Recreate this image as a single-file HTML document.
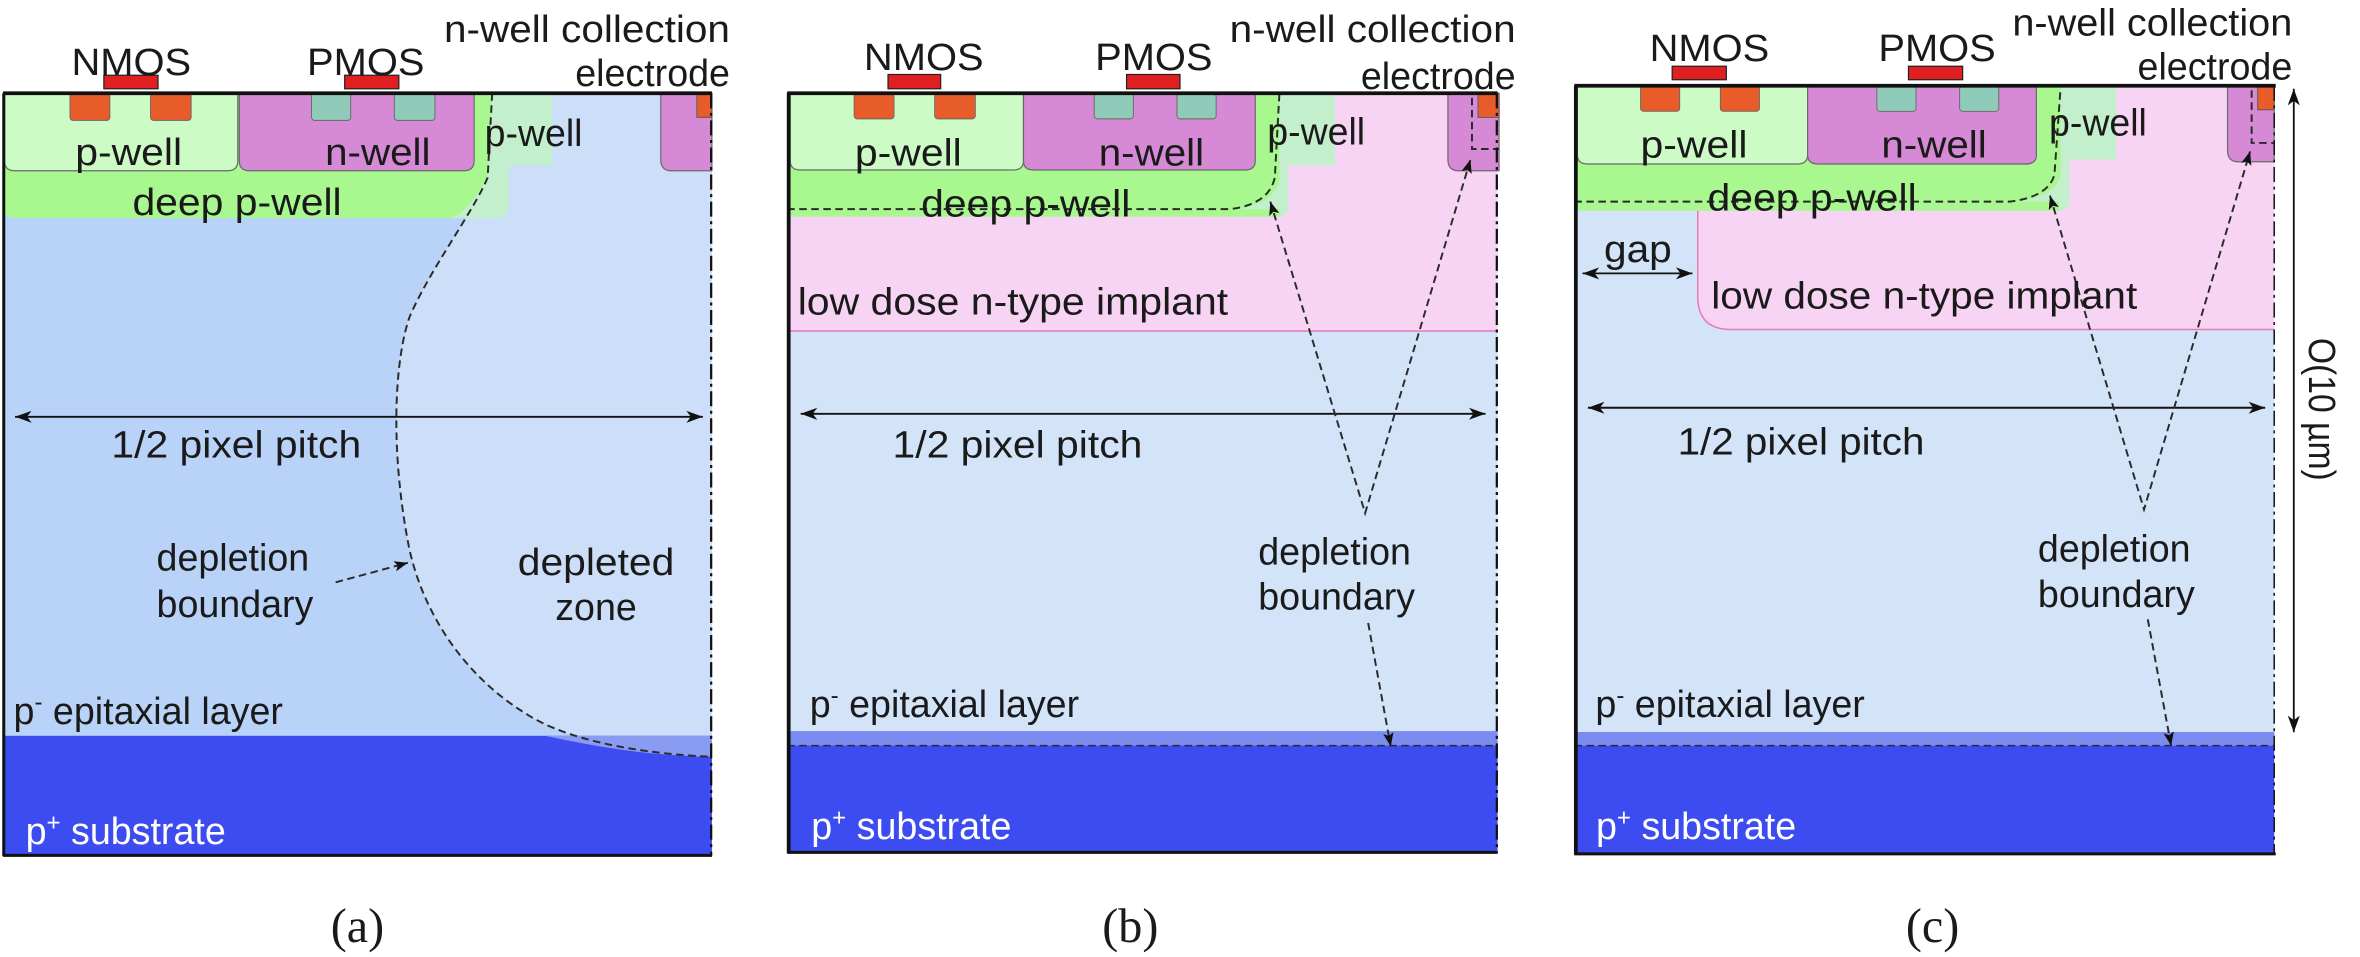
<!DOCTYPE html>
<html><head><meta charset="utf-8"><style>
html,body{margin:0;padding:0;background:#fff;width:2360px;height:957px;overflow:hidden}
svg{display:block}
text{font-family:"Liberation Sans",sans-serif;font-size:25px;fill:#1a1a1a}
.cap{font-family:"Liberation Serif",serif;font-size:32px}
.w{fill:#fff}
.dash{fill:none;stroke:#2a2a2a;stroke-width:1.3;stroke-dasharray:5,3}
</style></head><body>
<svg width="2360" height="957" viewBox="0 0 1568 636" preserveAspectRatio="none" xmlns="http://www.w3.org/2000/svg">
<defs>
<marker id="ah" markerUnits="userSpaceOnUse" markerWidth="12" markerHeight="10" refX="11" refY="5" orient="auto-start-reverse"><path d="M0,1 L11,5 L0,9 L3,5 Z" fill="#111"/></marker>
<marker id="ad" markerUnits="userSpaceOnUse" markerWidth="10" markerHeight="8" refX="9" refY="4" orient="auto-start-reverse"><path d="M0,0.5 L9,4 L0,7.5 L2,4 Z" fill="#111"/></marker>
</defs>

<!-- ================= PANEL A ================= -->
<rect x="2" y="62" width="471" height="507" fill="#b8d3f7"/>
<path d="M327,62 L324,118 C315,140 285,180 272,211 C262,240 259,300 272,365 C282,410 310,450 349,474 C370,488 410,500 473,503 L473,62 Z" fill="#cddff8"/>
<rect x="2" y="489" width="471" height="80" fill="#3d4cf0"/>
<path d="M362,489 C400,497 430,502 473,503 L473,489 Z" fill="#8a9bf2"/>
<path d="M2,62 H367 V110 H338 V137 Q338,145 330,145 H12 Q2,145 2,137 Z" fill="#c4efcc"/>
<path d="M2,62 H327 L324,118 C316,132 306,145 298,145 H12 Q2,145 2,137 Z" fill="#a8f88f"/>
<path d="M3,62 H158 V107 Q158,113.5 151,113.5 H10 Q3,113.5 3,107 Z" fill="#ccfbc6" stroke="#6a6a6a" stroke-width="0.8"/>
<path d="M159,62 H315 V107 Q315,113.5 308,113.5 H166 Q159,113.5 159,107 Z" fill="#d689d4" stroke="#6a6a6a" stroke-width="0.8"/>
<path d="M439,62 H473 V113.5 H446 Q439,113.5 439,106 Z" fill="#d689d4" stroke="#6a6a6a" stroke-width="0.8"/>
<rect x="463" y="62" width="10" height="16" fill="#e85c2a" stroke="#555" stroke-width="0.6"/>
<rect x="46.5" y="62" width="26.5" height="18" rx="2" fill="#e85c2a" stroke="#666" stroke-width="0.6"/>
<rect x="100" y="62" width="27" height="18" rx="2" fill="#e85c2a" stroke="#666" stroke-width="0.6"/>
<rect x="207" y="62" width="26" height="18" rx="2" fill="#8fcbb8" stroke="#666" stroke-width="0.6"/>
<rect x="262" y="62" width="27" height="18" rx="2" fill="#8fcbb8" stroke="#666" stroke-width="0.6"/>
<rect x="69" y="50" width="36" height="9" fill="#e02020" stroke="#222" stroke-width="0.8"/>
<rect x="229" y="50" width="36" height="9" fill="#e02020" stroke="#222" stroke-width="0.8"/>
<path class="dash" d="M327,62 L324,118 C315,140 285,180 272,211 C262,240 259,300 272,365 C282,410 310,450 349,474 C370,488 410,500 473,503"/>
<line x1="2" y1="62" x2="473" y2="62" stroke="#111" stroke-width="2.5"/>
<line x1="2.5" y1="62" x2="2.5" y2="569" stroke="#111" stroke-width="2"/>
<line x1="2" y1="568.5" x2="473" y2="568.5" stroke="#111" stroke-width="2"/>
<line x1="472.5" y1="62" x2="472.5" y2="569" stroke="#111" stroke-width="1.5" stroke-dasharray="10,3,2,3"/>
<line x1="10" y1="277" x2="467" y2="277" stroke="#111" stroke-width="1.3" marker-start="url(#ah)" marker-end="url(#ah)"/>
<line x1="223" y1="387" x2="271" y2="374" class="dash" marker-end="url(#ad)"/>
<text x="47.5" y="50" textLength="79.5" lengthAdjust="spacingAndGlyphs">NMOS</text>
<text x="204" y="50" textLength="78" lengthAdjust="spacingAndGlyphs">PMOS</text>
<text x="295" y="28" textLength="190" lengthAdjust="spacingAndGlyphs">n-well collection</text>
<text x="485" y="57" text-anchor="end">electrode</text>
<text x="50" y="109.5" textLength="71" lengthAdjust="spacingAndGlyphs">p-well</text>
<text x="216" y="109.5" textLength="70" lengthAdjust="spacingAndGlyphs">n-well</text>
<text x="322" y="97" textLength="65" lengthAdjust="spacingAndGlyphs">p-well</text>
<text x="88" y="143" textLength="139" lengthAdjust="spacingAndGlyphs">deep p-well</text>
<text x="74" y="304" textLength="166" lengthAdjust="spacingAndGlyphs">1/2 pixel pitch</text>
<text x="104" y="379">depletion</text>
<text x="104" y="410">boundary</text>
<text x="344" y="382" textLength="104" lengthAdjust="spacingAndGlyphs">depleted</text>
<text x="396" y="412" text-anchor="middle">zone</text>
<text x="9" y="481">p<tspan font-size="16" dy="-9">-</tspan><tspan dy="9"> epitaxial layer</tspan></text>
<text x="17" y="561" class="w">p<tspan font-size="16" dy="-9">+</tspan><tspan dy="9"> substrate</tspan></text>
<text x="237.5" y="626" class="cap" text-anchor="middle">(a)</text>

<!-- ================= PANEL B ================= -->
<rect x="523" y="62" width="472" height="505" fill="#d3e4f9"/>
<rect x="523" y="62" width="472" height="158" fill="#f8d4f4"/>
<line x1="523" y1="220" x2="995" y2="220" stroke="#e77ab8" stroke-width="1"/>
<rect x="523" y="486" width="472" height="81" fill="#3d4cf0"/>
<rect x="523" y="486" width="472" height="9.5" fill="#7b8cf0"/>
<path d="M523,62 H887 V110 H856 V137 Q856,144 849,144 H523 Z" fill="#c4efcc"/>
<path d="M523,62 H850 V120 Q845,138 817,139 H523 Z" fill="#a8f88f"/>
<rect x="523" y="139" width="327" height="5" fill="#a8f88f"/>
<path d="M525,62 H680 V107 Q680,113 673,113 H532 Q525,113 525,107 Z" fill="#ccfbc6" stroke="#6a6a6a" stroke-width="0.8"/>
<path d="M680,62 H834 V107 Q834,113 827,113 H687 Q680,113 680,107 Z" fill="#d689d4" stroke="#6a6a6a" stroke-width="0.8"/>
<path d="M962,62 H996 V113.5 H969 Q962,113.5 962,106 Z" fill="#d689d4" stroke="#6a6a6a" stroke-width="0.8"/>
<rect x="982" y="62" width="14" height="16" fill="#e85c2a" stroke="#555" stroke-width="0.6"/>
<path class="dash" d="M978,65 V99 H996"/>
<rect x="567.5" y="62" width="26.5" height="17" rx="2" fill="#e85c2a" stroke="#666" stroke-width="0.6"/>
<rect x="621" y="62" width="27" height="17" rx="2" fill="#e85c2a" stroke="#666" stroke-width="0.6"/>
<rect x="727" y="62" width="26" height="17" rx="2" fill="#8fcbb8" stroke="#666" stroke-width="0.6"/>
<rect x="782" y="62" width="26" height="17" rx="2" fill="#8fcbb8" stroke="#666" stroke-width="0.6"/>
<rect x="590" y="49.5" width="35" height="9.5" fill="#e02020" stroke="#222" stroke-width="0.8"/>
<rect x="748.5" y="49.5" width="35.5" height="9.5" fill="#e02020" stroke="#222" stroke-width="0.8"/>
<path class="dash" d="M523,139 H817 Q843,136 847,118 L850,63"/>
<line x1="523" y1="495.5" x2="995" y2="495.5" class="dash" style="stroke-width:1"/>
<line x1="523" y1="62" x2="995" y2="62" stroke="#111" stroke-width="2.5"/>
<line x1="524" y1="62" x2="524" y2="567" stroke="#111" stroke-width="2.5"/>
<line x1="523" y1="566.5" x2="995" y2="566.5" stroke="#111" stroke-width="2"/>
<line x1="994.5" y1="62" x2="994.5" y2="567" stroke="#111" stroke-width="1.5" stroke-dasharray="10,3,2,3"/>
<line x1="532" y1="275" x2="987" y2="275" stroke="#111" stroke-width="1.3" marker-start="url(#ah)" marker-end="url(#ah)"/>
<path class="dash" d="M844,134 L907,341 L977,106" marker-start="url(#ad)" marker-end="url(#ad)"/>
<line x1="909" y1="414" x2="924" y2="496" class="dash" marker-end="url(#ad)"/>
<text x="574" y="46.6" textLength="79.5" lengthAdjust="spacingAndGlyphs">NMOS</text>
<text x="727.6" y="46.6" textLength="78" lengthAdjust="spacingAndGlyphs">PMOS</text>
<text x="817" y="28" textLength="190" lengthAdjust="spacingAndGlyphs">n-well collection</text>
<text x="1007" y="59" text-anchor="end">electrode</text>
<text x="568" y="110" textLength="71" lengthAdjust="spacingAndGlyphs">p-well</text>
<text x="730" y="110" textLength="70" lengthAdjust="spacingAndGlyphs">n-well</text>
<text x="842" y="96" textLength="65" lengthAdjust="spacingAndGlyphs">p-well</text>
<text x="612" y="144" textLength="139" lengthAdjust="spacingAndGlyphs">deep p-well</text>
<text x="530" y="209" textLength="286" lengthAdjust="spacingAndGlyphs">low dose n-type implant</text>
<text x="593" y="304" textLength="166" lengthAdjust="spacingAndGlyphs">1/2 pixel pitch</text>
<text x="836" y="375">depletion</text>
<text x="836" y="405">boundary</text>
<text x="538" y="476.5">p<tspan font-size="16" dy="-9">-</tspan><tspan dy="9"> epitaxial layer</tspan></text>
<text x="539" y="557.5" class="w">p<tspan font-size="16" dy="-9">+</tspan><tspan dy="9"> substrate</tspan></text>
<text x="751" y="626" class="cap" text-anchor="middle">(b)</text>

<!-- ================= PANEL C ================= -->
<rect x="1046" y="57" width="465" height="511" fill="#d3e4f9"/>
<path d="M1046,57 H1511 V219 H1150 Q1128,219 1128,197 V140 H1046 Z" fill="#f8d4f4"/>
<path d="M1511,219 H1150 Q1128,219 1128,197 V140" fill="none" stroke="#e77ab8" stroke-width="1"/>
<rect x="1046" y="486.6" width="465" height="81.4" fill="#3d4cf0"/>
<rect x="1046" y="486.6" width="465" height="9" fill="#7b8cf0"/>
<path d="M1046,57 H1406 V106 H1375 V133 Q1375,140 1368,140 H1046 Z" fill="#c4efcc"/>
<path d="M1046,57 H1369 V118 Q1362,133 1335,134 H1046 Z" fill="#a8f88f"/>
<rect x="1046" y="134" width="322" height="6" fill="#a8f88f"/>
<path d="M1048,57 H1201 V103 Q1201,109 1194,109 H1055 Q1048,109 1048,103 Z" fill="#ccfbc6" stroke="#6a6a6a" stroke-width="0.8"/>
<path d="M1201,57 H1353 V103 Q1353,109 1346,109 H1208 Q1201,109 1201,103 Z" fill="#d689d4" stroke="#6a6a6a" stroke-width="0.8"/>
<path d="M1480,57 H1511 V107.5 H1487 Q1480,107.5 1480,100 Z" fill="#d689d4" stroke="#6a6a6a" stroke-width="0.8"/>
<rect x="1500" y="57" width="11" height="16" fill="#e85c2a" stroke="#555" stroke-width="0.6"/>
<path class="dash" d="M1496,60 V95 H1511"/>
<rect x="1090" y="57" width="26" height="17" rx="2" fill="#e85c2a" stroke="#666" stroke-width="0.6"/>
<rect x="1143" y="57" width="26" height="17" rx="2" fill="#e85c2a" stroke="#666" stroke-width="0.6"/>
<rect x="1247" y="57" width="26" height="17" rx="2" fill="#8fcbb8" stroke="#666" stroke-width="0.6"/>
<rect x="1302" y="57" width="26" height="17" rx="2" fill="#8fcbb8" stroke="#666" stroke-width="0.6"/>
<rect x="1111" y="44" width="36" height="9" fill="#e02020" stroke="#222" stroke-width="0.8"/>
<rect x="1268" y="44" width="36" height="9" fill="#e02020" stroke="#222" stroke-width="0.8"/>
<path class="dash" d="M1046,134 H1335 Q1361,131 1365,116 L1369,59"/>
<line x1="1046" y1="495.5" x2="1511" y2="495.5" class="dash" style="stroke-width:1"/>
<line x1="1046" y1="57" x2="1512" y2="57" stroke="#111" stroke-width="2.5"/>
<line x1="1047" y1="57" x2="1047" y2="568" stroke="#111" stroke-width="2.5"/>
<line x1="1046" y1="567.5" x2="1512" y2="567.5" stroke="#111" stroke-width="2"/>
<line x1="1511" y1="57" x2="1511" y2="568" stroke="#111" stroke-width="1" stroke-dasharray="10,3,2,3"/>
<line x1="1055" y1="271" x2="1505" y2="271" stroke="#111" stroke-width="1.3" marker-start="url(#ah)" marker-end="url(#ah)"/>
<line x1="1051.5" y1="181.7" x2="1124.5" y2="181.7" stroke="#111" stroke-width="1.2" marker-start="url(#ah)" marker-end="url(#ah)"/>
<line x1="1524" y1="59" x2="1524" y2="486.6" stroke="#111" stroke-width="1.2" marker-start="url(#ah)" marker-end="url(#ah)"/>
<path class="dash" d="M1362,130 L1424.5,338.6 L1495,100.6" marker-start="url(#ad)" marker-end="url(#ad)"/>
<line x1="1427" y1="411.6" x2="1442.5" y2="495.5" class="dash" marker-end="url(#ad)"/>
<text x="1096" y="40.5" textLength="79.5" lengthAdjust="spacingAndGlyphs">NMOS</text>
<text x="1248" y="40.5" textLength="78" lengthAdjust="spacingAndGlyphs">PMOS</text>
<text x="1337" y="23.5" textLength="186" lengthAdjust="spacingAndGlyphs">n-well collection</text>
<text x="1523" y="52.7" text-anchor="end">electrode</text>
<text x="1090" y="104.6" textLength="71" lengthAdjust="spacingAndGlyphs">p-well</text>
<text x="1250" y="104.6" textLength="70" lengthAdjust="spacingAndGlyphs">n-well</text>
<text x="1361.4" y="90" textLength="65" lengthAdjust="spacingAndGlyphs">p-well</text>
<text x="1134.5" y="140" textLength="139" lengthAdjust="spacingAndGlyphs">deep p-well</text>
<text x="1065.7" y="174" textLength="45" lengthAdjust="spacingAndGlyphs">gap</text>
<text x="1137" y="205" textLength="283" lengthAdjust="spacingAndGlyphs">low dose n-type implant</text>
<text x="1114.6" y="302" textLength="164" lengthAdjust="spacingAndGlyphs">1/2 pixel pitch</text>
<text x="1354" y="373">depletion</text>
<text x="1354" y="403.5">boundary</text>
<text x="1060" y="476.5">p<tspan font-size="16" dy="-9">-</tspan><tspan dy="9"> epitaxial layer</tspan></text>
<text x="1060.4" y="557.5" class="w">p<tspan font-size="16" dy="-9">+</tspan><tspan dy="9"> substrate</tspan></text>
<text x="0" y="0" transform="translate(1534,272) rotate(90)" text-anchor="middle" textLength="95" lengthAdjust="spacingAndGlyphs">O(10 µm)</text>
<text x="1284" y="626" class="cap" text-anchor="middle">(c)</text>
</svg>
</body></html>
